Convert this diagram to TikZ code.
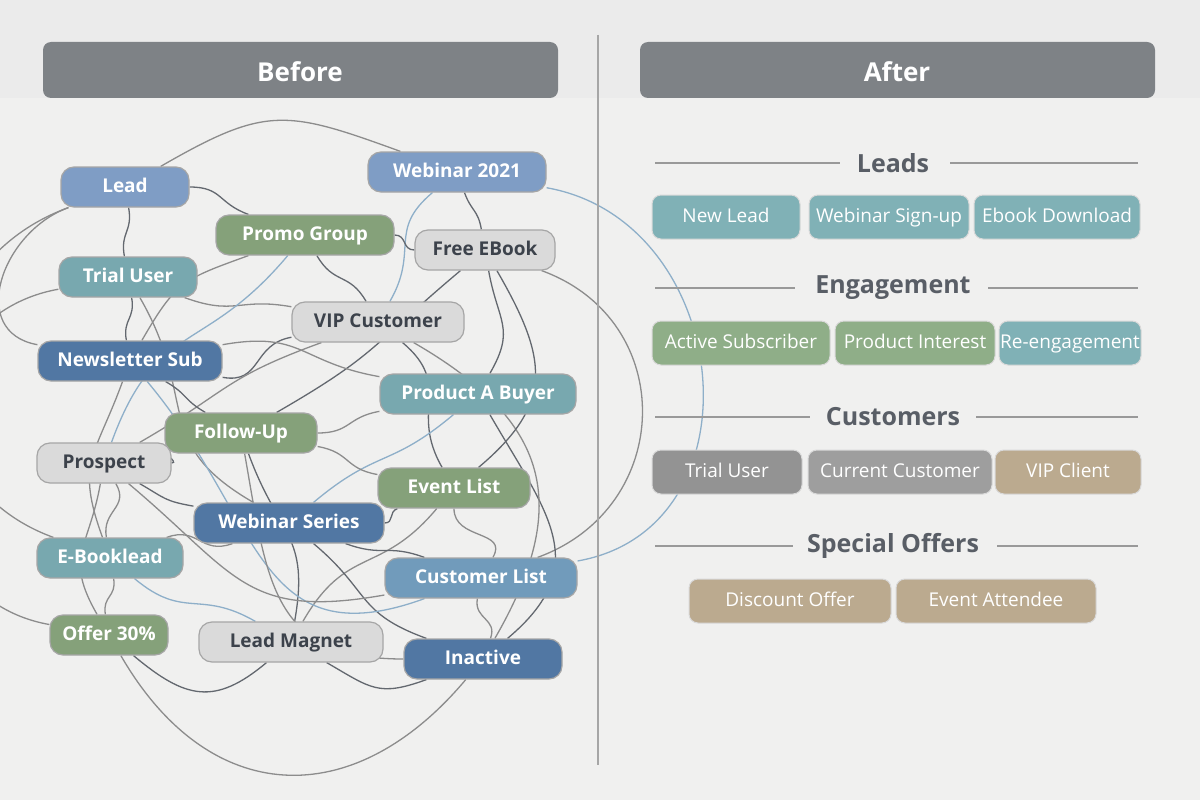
\documentclass[tikz,border=0pt]{standalone}
\usepackage{fontspec}
\setmainfont{Open Sans}
\usetikzlibrary{positioning,backgrounds}
\definecolor{pagebg}{HTML}{EBEBEB}
\definecolor{panelbg}{HTML}{F0F0EF}
\definecolor{headgray}{HTML}{7E8286}
\definecolor{txtdark}{HTML}{3C424B}
\definecolor{cblue}{HTML}{7F9DC5}
\definecolor{cdblue}{HTML}{5177A3}
\definecolor{cmblue}{HTML}{719BBB}
\definecolor{cgreen}{HTML}{85A17A}
\definecolor{cteal}{HTML}{78A8AF}
\definecolor{clight}{HTML}{DADADA}
\definecolor{rteal}{HTML}{80B1B6}
\definecolor{rgreen}{HTML}{8FAE88}
\definecolor{rgray}{HTML}{939393}
\definecolor{rtan}{HTML}{BBAA8F}
\tikzset{
  tag/.style={rounded corners=13pt, minimum height=40pt, inner sep=0pt,
    font=\bfseries\fontsize{19}{23}\selectfont, text=white, draw=black!35, line width=1.2pt,
    text height=14pt, text depth=4pt},
  light/.style={tag, fill=clight, text=txtdark},
  box/.style={rounded corners=9pt, minimum height=44pt, inner sep=0pt,
    font=\fontsize{19}{23}\selectfont, text=white, draw=black!15, line width=1pt,
    text height=14pt, text depth=4pt},
  sect/.style={font=\bfseries\fontsize{25}{30}\selectfont, text=txtdark!85},
  tangle/.style={line width=1.3pt, black!45},
  tangleb/.style={line width=1.3pt, cmblue!80},
  tangled/.style={line width=1.3pt, txtdark!80},
}
\begin{document}
\begin{tikzpicture}[x=1pt,y=-1pt]
  \useasboundingbox (0,0) rectangle (1200,800);
  \draw[black!35, line width=1.5pt] (598,35) -- (598,765);
  % left tangled nodes
  \node[tag, fill=cblue, minimum width=128pt] (lead) at (125,187) {Lead};
  \node[tag, fill=cblue, minimum width=178pt] (web21) at (457,172) {Webinar 2021};
  \node[tag, fill=cgreen, minimum width=178pt] (promo) at (305,235) {Promo Group};
  \node[light, minimum width=140pt] (ebook) at (485,250) {Free EBook};
  \node[tag, fill=cteal, minimum width=138pt] (trial) at (128,277) {Trial User};
  \node[light, minimum width=172pt] (vip) at (378,322) {VIP Customer};
  \node[tag, fill=cdblue, minimum width=184pt] (news) at (130,361) {Newsletter Sub};
  \node[tag, fill=cteal, minimum width=196pt] (prodA) at (478,394) {Product A Buyer};
  \node[tag, fill=cgreen, minimum width=152pt] (follow) at (241,433) {Follow-Up};
  \node[light, minimum width=134pt] (prospect) at (104,463) {Prospect};
  \node[tag, fill=cgreen, minimum width=152pt] (event) at (454,488) {Event List};
  \node[tag, fill=cdblue, minimum width=190pt] (wseries) at (289,523) {Webinar Series};
  \node[tag, fill=cteal, minimum width=146pt] (ebl) at (110,558) {E-Booklead};
  \node[tag, fill=cmblue, minimum width=192pt] (custl) at (481,578) {Customer List};
  \node[tag, fill=cgreen, minimum width=118pt] (offer) at (109,635) {Offer 30\%};
  \node[light, minimum width=184pt] (magnet) at (291,642) {Lead Magnet};
  \node[tag, fill=cdblue, minimum width=158pt] (inactive) at (483,659) {Inactive};
  \begin{scope}[on background layer]
    \fill[pagebg] (0,0) rectangle (1200,800);
    \fill[panelbg] (0,98) rectangle (1200,800);
    % headers
    \fill[headgray, rounded corners=8pt] (43,98) -- (43,42) -- (558,42) -- (558,98) -- cycle;
    \fill[headgray, rounded corners=8pt] (640,98) -- (640,42) -- (1155,42) -- (1155,98) -- cycle;
    \foreach \a/\b/\o/\i/\s in {
      lead/promo/0/160/tangled, lead/trial/-80/100/tangled, lead/web21/30/160/tangle,
      lead/news/200/170/tangle, web21/ebook/-70/100/tangled, web21/vip/220/60/tangleb,
      promo/ebook/0/180/tangled, promo/vip/-60/120/tangled, promo/news/200/60/tangle,
      ebook/prodA/-80/60/tangled, ebook/custl/-20/20/tangle, ebook/follow/220/30/tangled,
      trial/news/-80/100/tangled, trial/vip/-20/170/tangle, trial/wseries/-60/150/tangle,
      vip/news/190/-10/tangled, vip/event/-40/120/tangled, vip/prospect/200/30/tangle,
      news/follow/-30/150/tangled, news/ebl/250/110/tangle, news/prodA/10/170/tangle,
      prodA/follow/190/0/tangle, prodA/inactive/-60/40/tangled, prodA/wseries/220/40/tangleb,
      follow/prospect/190/0/tangled, follow/magnet/-70/80/tangled, follow/event/-10/170/tangle,
      prospect/ebl/-60/100/tangle, prospect/wseries/-30/170/tangled, prospect/offer/-100/120/tangle,
      event/custl/-90/60/tangle, event/wseries/200/0/tangled, event/magnet/230/60/tangle,
      wseries/custl/-20/160/tangled, wseries/ebl/200/20/tangle, wseries/inactive/-40/160/tangled,
      ebl/offer/-80/100/tangle, ebl/magnet/-40/150/tangleb, custl/inactive/-100/70/tangle,
      offer/magnet/-40/220/tangled, offer/inactive/-60/-130/tangle, magnet/inactive/-30/200/tangled,
      lead/ebl/200/160/tangle, web21/custl/-10/10/tangleb, promo/prospect/230/70/tangleb,
      trial/offer/190/170/tangle, vip/inactive/-30/60/tangle, ebook/event/-60/40/tangled,
      news/custl/-50/200/tangleb, follow/inactive/-80/180/tangle, prospect/custl/-40/190/tangle}
      \draw[\s, looseness=1.3] (\a) to[out=\o, in=\i] (\b);
  \end{scope}
  \node[font=\bfseries\fontsize{26}{30}\selectfont, text=white] (before) at (300,72) {Before};
  \node[font=\bfseries\fontsize{26}{30}\selectfont, text=white] (after) at (897,72) {After};
  % right organised side
  \foreach \t/\y/\l/\r in {Leads/163/840/950, Engagement/288/795/988, Customers/417/810/976, Special Offers/546/793/997} {
    \node[sect] at (893,\y) {\t};
    \draw[black!40, line width=1.2pt] (655,\y) -- (\l,\y);
    \draw[black!40, line width=1.2pt] (\r,\y) -- (1138,\y);
  }
  \node[box, fill=rteal, minimum width=148pt] (newlead) at (726,217) {New Lead};
  \node[box, fill=rteal, minimum width=160pt] (websign) at (889,217) {Webinar Sign-up};
  \node[box, fill=rteal, minimum width=166pt] (ebookdl) at (1057,217) {Ebook Download};
  \node[box, fill=rgreen, minimum width=178pt] (active) at (741,343) {Active Subscriber};
  \node[box, fill=rgreen, minimum width=160pt] (interest) at (915,343) {Product Interest};
  \node[box, fill=rteal, minimum width=142pt] (reeng) at (1070,343) {Re-engagement};
  \node[box, fill=rgray, minimum width=150pt] (rtrial) at (727,472) {Trial User};
  \node[box, fill=rgray!90, minimum width=184pt] (current) at (900,472) {Current Customer};
  \node[box, fill=rtan, minimum width=146pt] (vipc) at (1068,472) {VIP Client};
  \node[box, fill=rtan, minimum width=202pt] (discount) at (790,601) {Discount Offer};
  \node[box, fill=rtan, minimum width=200pt] (attendee) at (996,601) {Event Attendee};
\end{tikzpicture}
\end{document}
